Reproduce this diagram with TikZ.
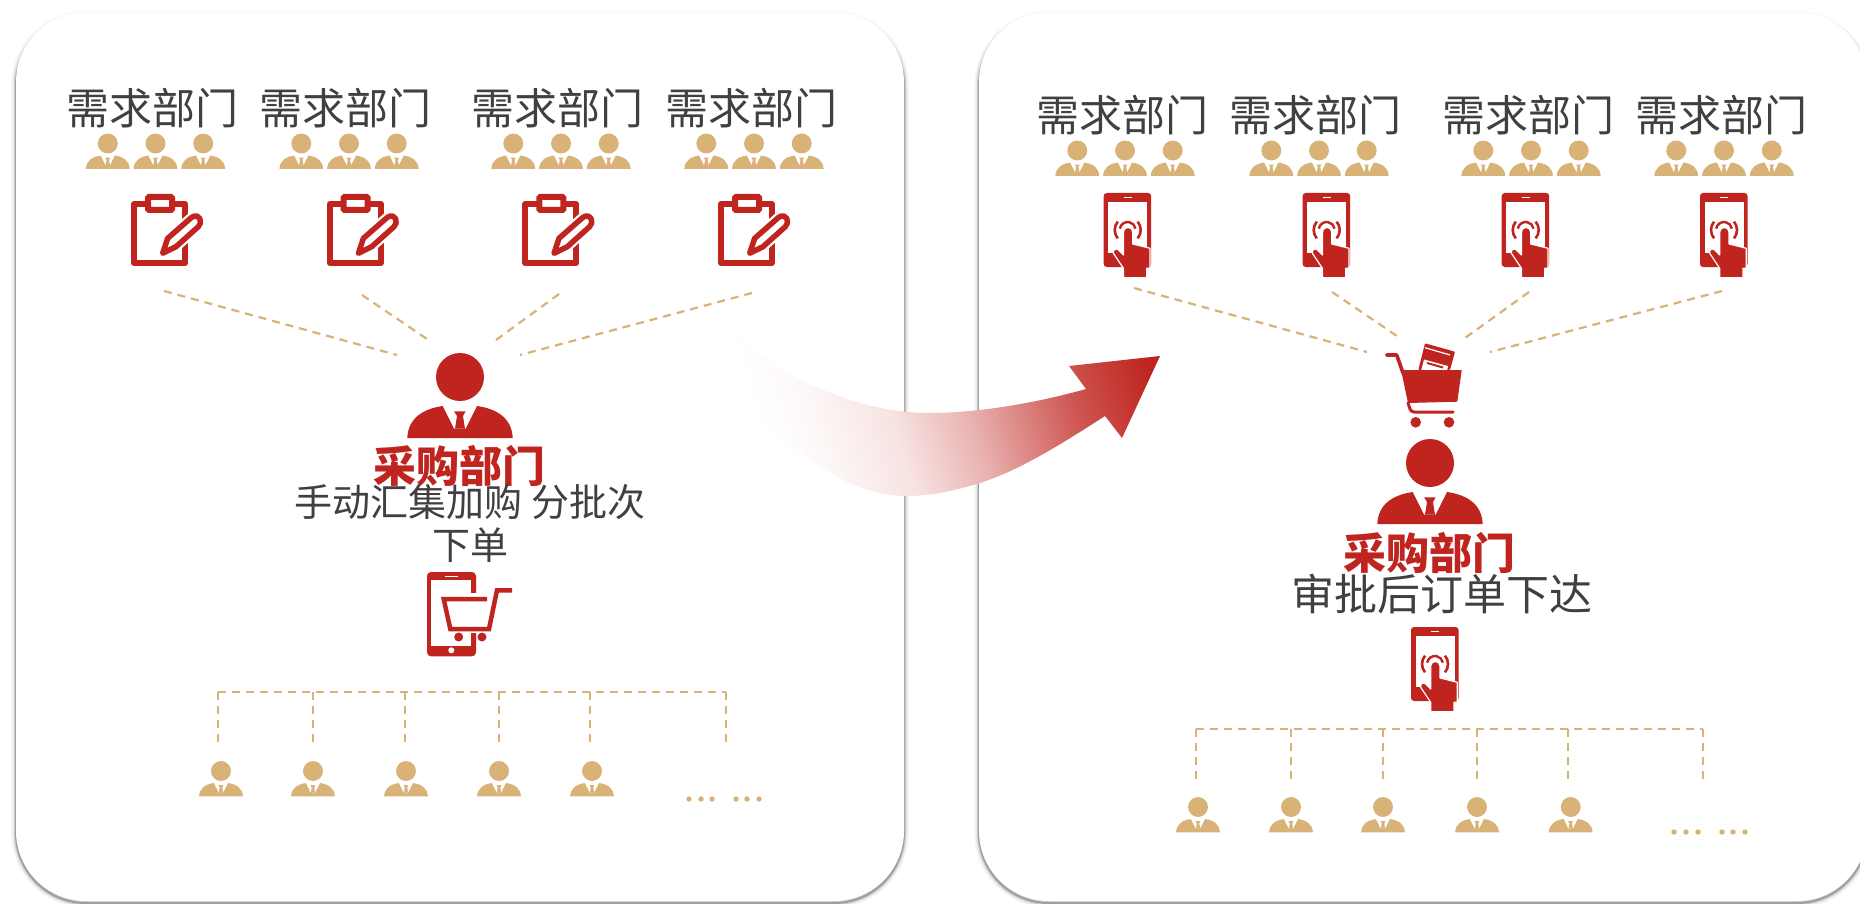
\documentclass[tikz,border=0pt]{standalone}
\usepackage{fontspec}
\newfontfamily\cjk{Noto Sans CJK SC}
\definecolor{dred}{HTML}{BF241E}
\definecolor{dtan}{HTML}{D8B277}
\definecolor{dtext}{HTML}{404040}
\pgfdeclarehorizontalshading{arrowfade}{100bp}{color(0bp)=(white); color(30bp)=(white); color(36bp)=(dred!3);
  color(46bp)=(dred!13); color(55bp)=(dred!35); color(60bp)=(dred!52); color(68bp)=(dred!78); color(78bp)=(dred); color(100bp)=(dred)}
\tikzset{
  panel/.style={fill=white, rounded corners=70pt},
  needtext/.style={text=dtext, font=\cjk\fontsize{43}{48}\selectfont, inner sep=0pt},
  buytext/.style={text=dred, font=\cjk\bfseries\fontsize{43}{48}\selectfont, inner sep=0pt},
  stagetext/.style={text=dtext, align=center, inner sep=0pt},
  dashline/.style={draw=dtan, line width=2.2pt, dash pattern=on 8pt off 6pt},
  % person, head centre is the origin
  person/.pic={
    \fill[pic actions] (0,0) circle (24);
    \fill[pic actions] (-52.7,61) .. controls (-52,42) and (-38,32) .. (-17.3,29) -- (-6,51.7) -- (5.7,51.7)
      -- (17,29) .. controls (38,32) and (52,42) .. (52.7,61) -- cycle;
    \fill[pic actions] (-6,34.3) -- (5.7,34.3) -- (3,39) -- (5,51.7) -- (-5,51.7) -- (-3,39) -- cycle;
  },
  % clipboard with pen, left top corner of the board is the origin
  clipboard/.pic={
    \draw[dred, line width=6pt, line join=round] (3,3) rectangle (54,62);
    \draw[dred, line width=6pt, fill=white, rounded corners=1pt] (17,-4) rectangle (41,9);
    \path[draw=white, fill=white, line width=10pt, line join=round]
      (31.7,52.3) -- (36.7,37.3) -- (60.7,16.3) .. controls (69,11) and (72,22) .. (67.3,25.7) -- (45,45.7) -- cycle;
    \draw[dred, fill=white, line width=5.5pt, line join=round]
      (31.7,52.3) -- (36.7,37.3) -- (60.7,16.3) .. controls (69,11) and (72,22) .. (67.3,25.7) -- (45,45.7) -- cycle;
  },
  % phone with cart
  phonecart/.pic={
    \fill[dred, rounded corners=4pt] (0,0) rectangle (49,84.3);
    \fill[white] (3.7,8.3) rectangle (44,74);
    \draw[white, line width=1.3pt] (17.7,4.7) -- (31,4.7);
    \fill[white] (24.3,78.3) circle (3);
    \fill[white] (42,21) rectangle (60,61);
    \draw[dred, line width=4.5pt] (85,18.3) -- (70,18.3) -- (62,57) -- (23.3,57) -- (16.7,27) -- (60,27);
    \fill[dred] (31.7,65) circle (4.5) (55,65) circle (4.5);
  },
  % phone with touching hand
  touchphone/.pic={
    \fill[dred, rounded corners=3pt] (0,0) rectangle (47.5,74);
    \fill[white] (4.7,8.7) rectangle (43.7,60);
    \draw[white, line width=1.3pt] (20,4.3) -- (28,4.3);
    \draw[dred, line width=2.4pt] (24,37) ++(190:8) arc[start angle=190, end angle=350, radius=8];
    \draw[dred, line width=2.6pt] (24,37) ++(140:13) arc[start angle=140, end angle=220, radius=13];
    \draw[dred, line width=2.6pt] (24,37) ++(-40:13) arc[start angle=-40, end angle=40, radius=13];
    \fill[dred, draw=white, line width=1.2pt, line join=round]
      (19.7,39) .. controls (19.7,33) and (29,33) .. (29,39) -- (29,51) -- (46.3,55.3) -- (46.3,75.3) -- (43,75.3)
      -- (43,84.7) -- (19.7,84.7) -- (19.7,75.3) -- (9.7,60.3) .. controls (9,56) and (13,55) .. (14.7,57)
      -- (19.7,62) -- cycle;
  },
  % cart with cards
  shopcart/.pic={
    \fill[dred, rounded corners=1pt] (55,8.3) -- (85,16.7) -- (80,35) -- (48.3,35) -- cycle;
    \draw[white, line width=1.2pt] (55,12.7) -- (80,20);
    \fill[white] (54,24.5) -- (78,31) -- (77,36) -- (51,36) -- cycle;
    \draw[dred, line width=2pt] (57,28) -- (73,32.5);
    \draw[dred, line width=3.6pt, line cap=round, line join=round] (16.7,20) -- (26.7,20) -- (33,38);
    \fill[dred] (31,35) -- (91.7,35) -- (87.3,66.7) -- (38,68) -- cycle;
    \draw[dred, line width=3pt, line cap=round, rounded corners=3pt] (38,68) -- (41,77) -- (83,77);
    \fill[dred] (45.7,87.3) circle (5.3) (79,87.3) circle (5.3);
  }
}

\begin{document}
\begin{tikzpicture}[x=1pt, y=-1pt]
  \useasboundingbox (0,0) rectangle (1860,904);
  \clip (0,0) rectangle (1860,904);

  % panels
  \foreach \px in {16,979}{
    \foreach \w/\o in {10/.03,7/.06,4/.12,2/.22}
      \draw[black, opacity=\o, line width=\w pt, rounded corners=70pt] (\px,16) rectangle (\px+888,903);
    \path[panel] (\px,12) rectangle (\px+888,901);
  }

  % left: departments
  \foreach \tx/\mx/\i in {152/155.5/1,345/349/2,557/561/3,751/754/4}{
    \node[needtext] (needl\i) at (\tx,108) {需求部门};
    \foreach \d in {-47.7,0,47.7}
      \pic[fill=dtan, scale=.415] at (\mx+\d,143.5) {person};
  }
  \foreach \x in {131,326.7,522.3,718}
    \pic at (\x,201) {clipboard};

  % left: dashed lines up to the departments
  \coordinate (la1) at (164,291); \coordinate (lb1) at (397,355);
  \coordinate (la2) at (362,295); \coordinate (lb2) at (427,339);
  \coordinate (la3) at (559,294); \coordinate (lb3) at (496,340);
  \coordinate (la4) at (752,293); \coordinate (lb4) at (520,355);
  \foreach \i in {1,...,4}
    \draw[dashline] (la\i) -- (lb\i);

  % left: buyer
  \pic[fill=dred] at (460,377) {person};
  \node[buytext] (buyl) at (459,466) {采购部门};
  \node[stagetext, font=\cjk\fontsize{38}{43}\selectfont] (stagel) at (470,523) {手动汇集加购 分批次\\下单};
  \pic at (427,572) {phonecart};

  % left: suppliers
  \coordinate (ltop1) at (218,692);
  \coordinate (ltop2) at (726,692);
  \draw[dashline] (ltop1) -- (ltop2);
  \foreach \x/\ex/\i in {218/747/1,313/747/2,405/747/3,499/747/4,590/747/5,726/744/6}{
    \coordinate (lv\i) at (\x,692);
    \coordinate (lw\i) at (\x,\ex);
    \draw[dashline] (lv\i) -- (lw\i);
  }
  \foreach \x in {221,313,406,499,592}
    \pic[fill=dtan, scale=.415] at (\x,771) {person};
  \foreach \x in {689,701,712,736,747,759}
    \fill[dtan] (\x,799) circle (2.7);

  % right: departments
  \foreach \tx/\mx/\i in {1122/1125/1,1315.5/1319/2,1528/1531/3,1721/1724/4}{
    \node[needtext] (needr\i) at (\tx,115) {需求部门};
    \foreach \d in {-47.7,0,47.7}
      \pic[fill=dtan, scale=.415] at (\mx+\d,150.5) {person};
  }
  \foreach \x in {1103.7,1302.7,1501.7,1700}
    \pic at (\x,193) {touchphone};

  % right: dashed lines up to the departments
  \coordinate (ra1) at (1134,288); \coordinate (rb1) at (1367,352);
  \coordinate (ra2) at (1332,292); \coordinate (rb2) at (1397,336);
  \coordinate (ra3) at (1529,292); \coordinate (rb3) at (1465,338);
  \coordinate (ra4) at (1722,291); \coordinate (rb4) at (1490,352);
  \foreach \i in {1,...,4}
    \draw[dashline] (ra\i) -- (rb\i);

  % right: buyer
  \pic at (1370,335) {shopcart};
  \pic[fill=dred] at (1430,463) {person};
  \node[buytext] (buyr) at (1429,553) {采购部门};
  \node[needtext] (stager) at (1442,594) {审批后订单下达};
  \pic at (1411,627) {touchphone};

  % right: suppliers
  \coordinate (rtop1) at (1196,729);
  \coordinate (rtop2) at (1703,729);
  \draw[dashline] (rtop1) -- (rtop2);
  \foreach \x/\ex/\i in {1196/782/1,1291/782/2,1383/782/3,1477/782/4,1568/782/5,1703/780/6}{
    \coordinate (rv\i) at (\x,729);
    \coordinate (rw\i) at (\x,\ex);
    \draw[dashline] (rv\i) -- (rw\i);
  }
  \foreach \x in {1198,1291,1383,1477,1570.7}
    \pic[fill=dtan, scale=.415] at (\x,807) {person};
  \foreach \x in {1674,1686,1698,1722,1733,1745}
    \fill[dtan] (\x,832) circle (2.7);

  % big arrow
  \shade[shading=arrowfade, shading angle=17]
    (713,307) .. controls (760,370) and (850,413) .. (930,413) .. controls (980,413) and (1040,402) .. (1086,389)
    -- (1069,366) -- (1160,356) -- (1122,438) -- (1105,416)
    .. controls (1060,445) and (1020,470) .. (980,483) .. controls (950,492) and (930,496) .. (907,496)
    .. controls (820,496) and (740,400) .. (685,328) -- cycle;
\end{tikzpicture}
\end{document}
